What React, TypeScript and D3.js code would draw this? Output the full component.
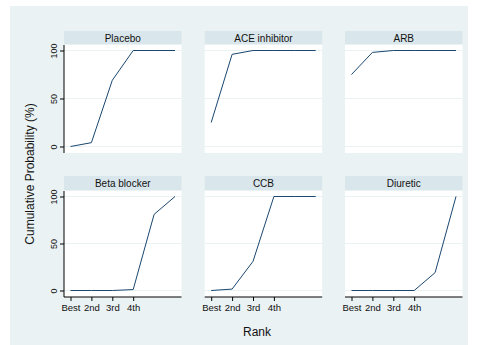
import { useEffect, useRef } from 'react';
import * as d3 from 'd3';

// Stata-style cumulative rank plot (s2color scheme)
const ranks = [1, 2, 3, 4, 5, 6];
const rankLabels = ['Best', '2nd', '3rd', '4th'];
const treatments = ['Placebo', 'ACE inhibitor', 'ARB', 'Beta blocker', 'CCB', 'Diuretic'];

const placebo = [0, 4, 69, 100, 100, 100];
const aceInhibitor = [25, 96, 100, 100, 100, 100];
const arb = [75, 98, 100, 100, 100, 100];
const betaBlocker = [0, 0, 0, 1, 81, 100];
const ccb = [0, 1.5, 31, 100, 100, 100];
const diuretic = [0, 0, 0, 0, 19, 100];

const seriesValues = [placebo, aceInhibitor, arb, betaBlocker, ccb, diuretic];
const yTicks = [0, 50, 100];

const BG = '#eaf2f3';
const STRIP = '#d9e6eb';
const LINE = '#1a476f';
const FONT = 'Liberation Sans, Arial, sans-serif';
const TEXT = '#111';

export default function App() {
    const svgRef = useRef<SVGSVGElement>(null);

    useEffect(() => {
        const svg = d3.select(svgRef.current);
        svg.selectAll('*').remove();

        const width = 478;
        const height = 345;

        svg.append('rect')
            .attr('x', 0).attr('y', 0)
            .attr('width', width).attr('height', height)
            .attr('fill', '#fff');

        svg.append('rect')
            .attr('x', 10).attr('y', 6)
            .attr('width', 458).attr('height', height - 6)
            .attr('fill', BG);

        const colX = [64, 204.7, 345];
        const panelW = 117.5;
        const rows = [
            { stripTop: 31, plotTop: 45, plotBottom: 153 },
            { stripTop: 176, plotTop: 191, plotBottom: 297 },
        ];

        seriesValues.forEach((vals, i) => {
            const col = i % 3;
            const row = Math.floor(i / 3);
            const r = rows[row];
            const x0 = colX[col];

            const x = d3.scaleLinear()
                .domain([1, 6])
                .range([x0 + 6.5, x0 + panelW - 6.5]);
            const y = d3.scaleLinear()
                .domain([0, 100])
                .range([r.plotBottom - 6.5, r.plotTop + 5.5]);

            const g = svg.append('g');

            // strip header
            g.append('rect')
                .attr('x', x0).attr('y', r.stripTop)
                .attr('width', panelW).attr('height', r.plotTop - r.stripTop - 1)
                .attr('fill', STRIP);
            g.append('text')
                .attr('x', x0 + panelW / 2)
                .attr('y', r.stripTop + 10.5)
                .attr('text-anchor', 'middle')
                .style('font-family', FONT)
                .style('font-size', '10px')
                .style('fill', TEXT)
                .text(treatments[i]);

            // plot region
            g.append('rect')
                .attr('x', x0).attr('y', r.plotTop)
                .attr('width', panelW).attr('height', r.plotBottom - r.plotTop)
                .attr('fill', '#fff');

            // grid lines
            g.selectAll('.grid')
                .data(yTicks)
                .enter()
                .append('line')
                .attr('x1', x0).attr('x2', x0 + panelW)
                .attr('y1', d => y(d)).attr('y2', d => y(d))
                .attr('stroke', BG)
                .attr('stroke-width', 1);

            // y axis on left column
            if (col === 0) {
                const yAxis = g.append('g')
                    .attr('transform', `translate(${x0},0)`)
                    .call(d3.axisLeft(y).tickValues(yTicks).tickSize(4).tickFormat(d3.format('d')));
                yAxis.select('.domain')
                    .attr('d', `M0,${r.plotTop}V${r.plotBottom}`)
                    .attr('stroke', '#000');
                yAxis.selectAll('line').attr('stroke', '#000');
                yAxis.selectAll('text')
                    .attr('x', 0).attr('y', 0).attr('dy', 0)
                    .attr('transform', 'translate(-7,0) rotate(-90)')
                    .attr('text-anchor', 'middle')
                    .style('font-family', FONT)
                    .style('font-size', '9px')
                    .style('fill', TEXT);
            }

            // x axis on bottom row
            if (row === 1) {
                const xAxis = g.append('g')
                    .attr('transform', `translate(0,${r.plotBottom})`)
                    .call(d3.axisBottom(x)
                        .tickValues(ranks.slice(0, rankLabels.length))
                        .tickSize(4)
                        .tickFormat((_, k) => rankLabels[k]));
                xAxis.select('.domain')
                    .attr('d', `M${x0},0H${x0 + panelW}`)
                    .attr('stroke', '#000');
                xAxis.selectAll('line').attr('stroke', '#000');
                xAxis.selectAll('text')
                    .attr('y', 7)
                    .style('font-family', FONT)
                    .style('font-size', '9.5px')
                    .style('fill', TEXT);
            }

            // series line
            const line = d3.line<number>()
                .x((_, k) => x(ranks[k]))
                .y(d => y(d));
            g.append('path')
                .datum(vals)
                .attr('fill', 'none')
                .attr('stroke', LINE)
                .attr('stroke-width', 1)
                .attr('d', line);
        });

        // axis titles
        svg.append('text')
            .attr('x', 257)
            .attr('y', 336)
            .attr('text-anchor', 'middle')
            .style('font-family', FONT)
            .style('font-size', '12px')
            .style('fill', TEXT)
            .text('Rank');

        svg.append('text')
            .attr('transform', 'translate(34,174) rotate(-90)')
            .attr('text-anchor', 'middle')
            .style('font-family', FONT)
            .style('font-size', '12px')
            .style('fill', TEXT)
            .text('Cumulative Probability (%)');
    }, []);

    return (
        <svg
            ref={svgRef}
            width={478}
            height={345}
            style={{ position: 'absolute', left: 0, top: 0, display: 'block' }}
        />
    );
}
